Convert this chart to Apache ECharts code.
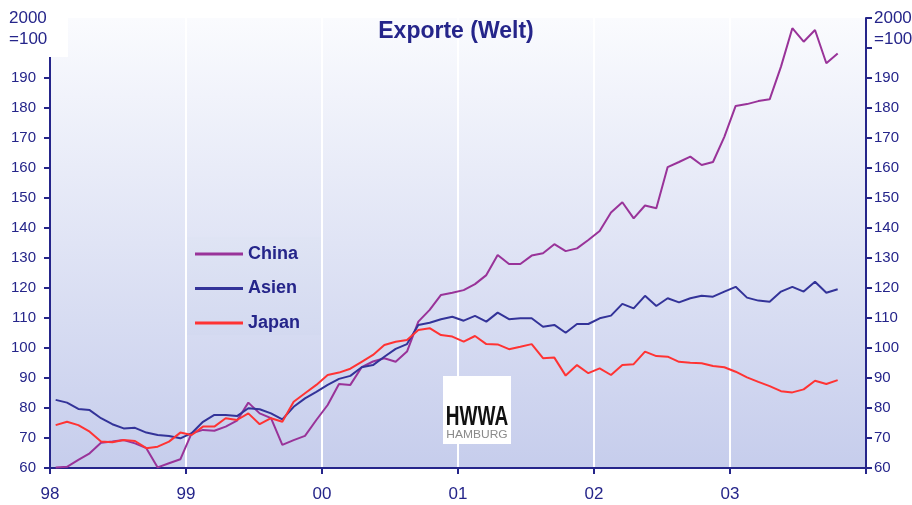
<!DOCTYPE html>
<html>
<head>
<meta charset="utf-8">
<script src="https://cdn.jsdelivr.net/npm/echarts@6.0.0/dist/echarts.min.js"></script>
<style>
  html, body { margin: 0; padding: 0; background: #fff; }
  #chart { width: 912px; height: 505px; }
</style>
</head>
<body>
<div id="chart"></div>
<script>
// monthly index values, Jan 1998 .. Oct 2003 (2000 = 100)
const yearLabels = ['98', '99', '00', '01', '02', '03']
const seriesNames = ['China', 'Asien', 'Japan']

const china = [
  60.2, 60.4, 62.7, 64.9, 68.4, 68.8, 69.3, 68.2, 66.6, 60.2, 61.6, 62.9,
  71.6, 72.7, 72.4, 73.8, 75.8, 81.8, 78.2, 76.6, 67.7, 69.3, 70.7, 76.0,
  81.0, 88.0, 87.7, 93.6, 95.5, 96.6, 95.4, 98.8, 108.8, 112.7, 117.7, 118.4,
  119.3, 121.3, 124.3, 131.0, 128.0, 128.0, 130.8, 131.6, 134.6, 132.3, 133.2, 136.0,
  139.0, 145.2, 148.6, 143.2, 147.5, 146.6, 160.3, 162.0, 163.8, 161.0, 162.0, 170.4,
  180.7, 181.3, 182.3, 182.9, 193.8, 206.6, 202.1, 206.0, 194.9, 198.2
]
const asien = [
  82.7, 81.8, 79.7, 79.3, 76.6, 74.6, 73.2, 73.4, 71.8, 71.0, 70.7, 69.9,
  71.6, 75.4, 77.7, 77.7, 77.3, 79.9, 79.6, 78.2, 76.2, 80.4, 83.2, 85.4,
  87.7, 89.7, 90.7, 93.6, 94.3, 97.1, 99.7, 101.3, 107.7, 108.4, 109.6, 110.4,
  109.1, 110.7, 108.8, 111.8, 109.6, 109.9, 109.9, 107.1, 107.7, 105.1, 108.0, 108.0,
  109.9, 110.8, 114.7, 113.2, 117.4, 114.0, 116.6, 115.2, 116.6, 117.4, 117.1, 118.8,
  120.4, 116.8, 115.8, 115.4, 118.8, 120.4, 118.8, 122.1, 118.4, 119.6
]
const japan = [
  74.3, 75.4, 74.3, 72.1, 68.8, 68.6, 69.3, 69.0, 66.6, 67.1, 68.8, 71.8,
  71.0, 73.8, 73.8, 76.6, 76.0, 78.2, 74.6, 76.6, 75.4, 82.1, 84.9, 87.7,
  91.0, 91.8, 93.1, 95.4, 97.7, 101.0, 102.1, 102.7, 106.0, 106.6, 104.3, 103.8,
  102.1, 104.0, 101.3, 101.2, 99.6, 100.4, 101.3, 96.6, 96.8, 90.8, 94.3, 91.6,
  93.2, 91.0, 94.3, 94.6, 98.8, 97.3, 97.1, 95.4, 95.1, 94.9, 94.0, 93.6,
  92.1, 90.2, 88.7, 87.3, 85.6, 85.2, 86.2, 89.1, 88.0, 89.3
]

const colors = ['#993399', '#333399', '#ff3333']
const navy = '#25258a'
const font = "'Liberation Sans', Arial, sans-serif"

// month index -> mid-month position on the x axis
const toPoints = (arr) => arr.map((v, i) => [i + 0.5, v])

const chart = echarts.init(document.getElementById('chart'))

const yAxisBase = {
  type: 'value',
  min: 60,
  max: 210,
  interval: 10,
  axisLine: { show: true, lineStyle: { color: navy, width: 2 } },
  axisTick: { show: true, length: 6, lineStyle: { color: navy, width: 2 } },
  splitLine: { show: false },
}
const yLabel = (margin) => ({
  color: navy,
  fontFamily: font,
  fontSize: 15,
  margin,
  formatter: (v) => (v <= 190 ? String(v) : ''),
})

chart.setOption({
  animation: false,
  title: {
    text: 'Exporte (Welt)',
    left: 'center',
    top: 15,
    textStyle: { color: navy, fontFamily: font, fontSize: 23, fontWeight: 'bold' },
  },
  legend: {
    data: seriesNames,
    orient: 'vertical',
    left: 190,
    top: 239,
    icon: 'rect',
    itemWidth: 48,
    itemHeight: 3,
    itemGap: 14.5,
    textStyle: { color: navy, fontFamily: font, fontSize: 18, fontWeight: 'bold', lineHeight: 20 },
  },
  grid: {
    left: 50,
    right: 46,
    top: 18,
    bottom: 37,
    show: true,
    borderWidth: 0,
    backgroundColor: new echarts.graphic.LinearGradient(0, 0, 0, 1, [
      { offset: 0, color: '#fafbfe' },
      { offset: 1, color: '#c6cdec' },
    ]),
  },
  xAxis: {
    type: 'value',
    min: 0,
    max: 72,
    interval: 12,
    axisLine: { lineStyle: { color: navy, width: 2 } },
    axisTick: { length: 6, lineStyle: { color: navy, width: 2 } },
    axisLabel: {
      color: navy,
      fontFamily: font,
      fontSize: 17,
      margin: 18,
      formatter: (v) => yearLabels[v / 12] || '',
    },
    splitLine: { show: true, lineStyle: { color: '#ffffff', width: 2 } },
  },
  yAxis: [
    { ...yAxisBase, position: 'left', axisLabel: yLabel(14) },
    { ...yAxisBase, position: 'right', axisLabel: yLabel(8) },
  ],
  graphic: [
    // white patch behind the unit label, hides top of the left axis
    { type: 'rect', left: 0, top: 0, z: 100, shape: { width: 68, height: 57 }, style: { fill: '#ffffff' } },
    {
      type: 'text', left: 9, top: 8, z: 101,
      style: { text: '2000\n=100', fill: navy, font: `17px ${font}`, lineHeight: 21 },
    },
    {
      type: 'text', left: 874, top: 8, z: 101,
      style: { text: '2000\n=100', fill: navy, font: `17px ${font}`, lineHeight: 21 },
    },
    // legend box hides the year lines behind it
    {
      type: 'rect', left: 187, top: 237, z: 1, silent: true,
      shape: { width: 134, height: 98 },
      style: {
        fill: new echarts.graphic.LinearGradient(0, 0, 0, 1, [
          { offset: 0, color: '#dfe4f4' },
          { offset: 1, color: '#d3d9f0' },
        ]),
      },
    },
    // HWWA logo
    { type: 'rect', left: 443, top: 376, z: 10, shape: { width: 68, height: 68 }, style: { fill: '#ffffff' } },
    {
      type: 'text', x: 477, y: 417, scaleX: 0.68, z: 11,
      style: {
        text: 'HWWA', fill: '#111111', font: `bold 28px ${font}`,
        textAlign: 'center', textVerticalAlign: 'middle',
      },
    },
    {
      type: 'text', x: 477, y: 435, scaleY: 0.85, z: 11,
      style: {
        text: 'HAMBURG', fill: '#8a8a8a', font: `12px ${font}`,
        textAlign: 'center', textVerticalAlign: 'middle',
      },
    },
  ],
  series: [
    { name: 'China', type: 'line', data: toPoints(china) },
    { name: 'Asien', type: 'line', data: toPoints(asien) },
    { name: 'Japan', type: 'line', data: toPoints(japan) },
  ].map((s, i) => ({
    ...s,
    showSymbol: false,
    symbol: 'none',
    color: colors[i],
    lineStyle: { color: colors[i], width: 2 },
  })),
})
</script>
</body>
</html>
